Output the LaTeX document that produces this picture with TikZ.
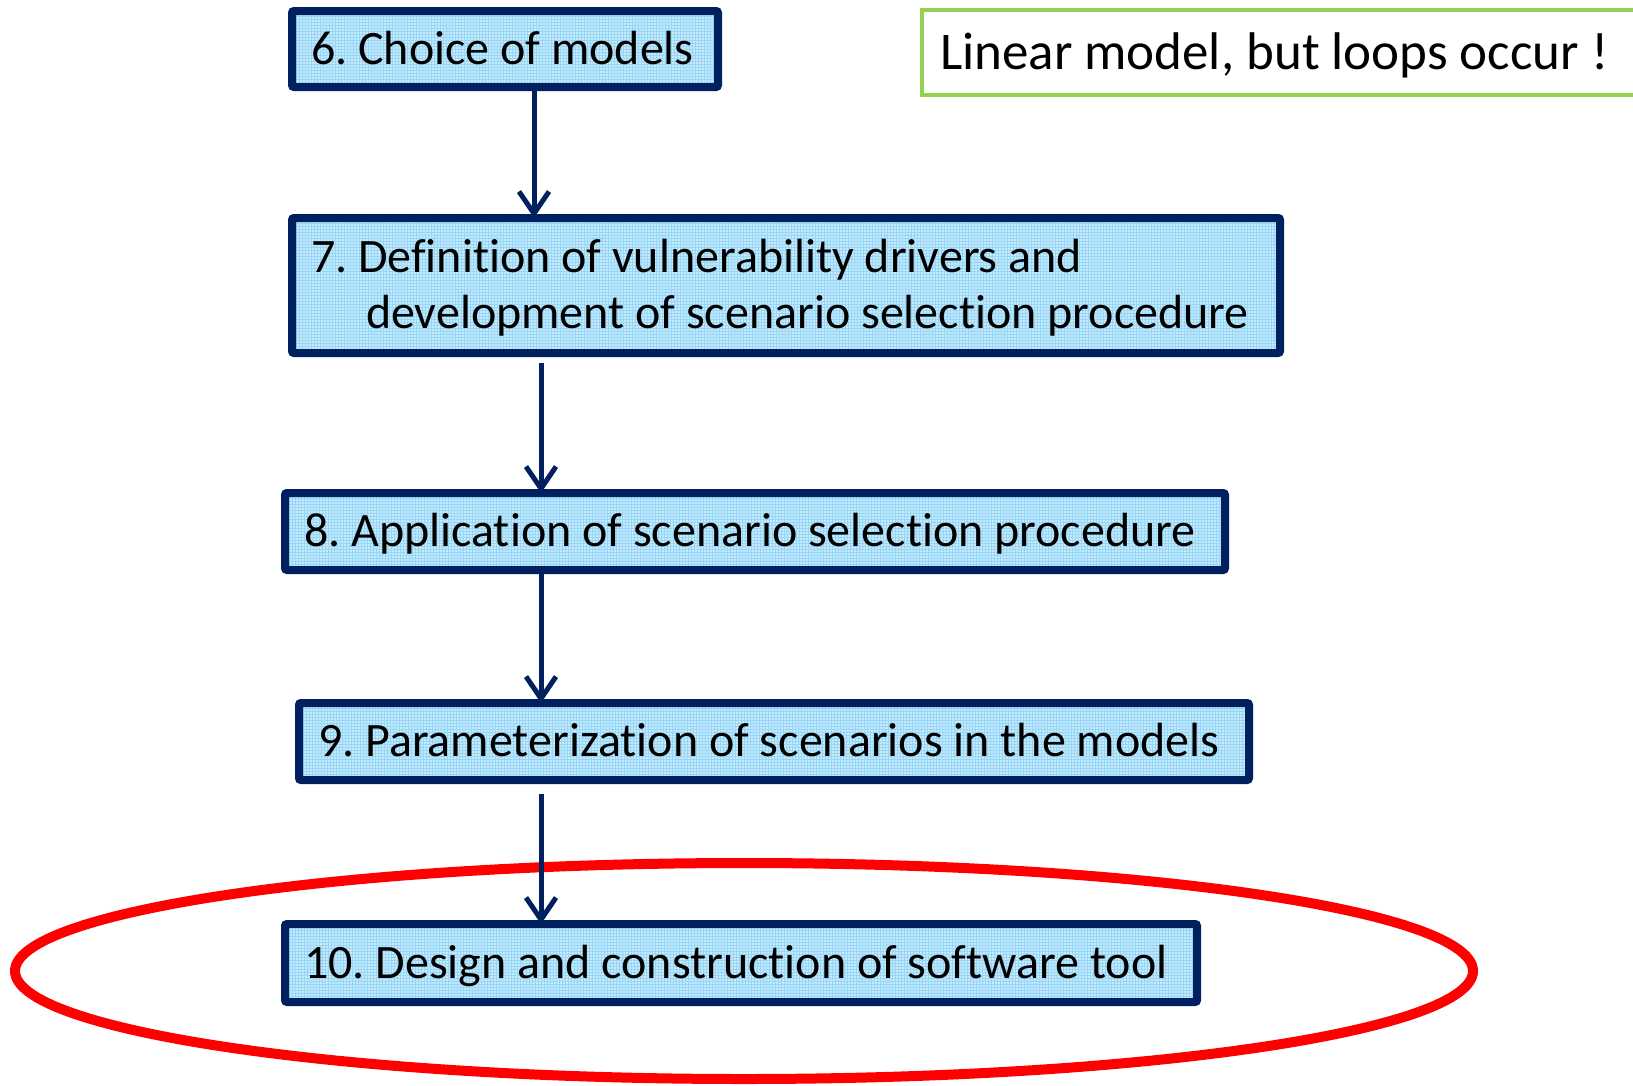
\documentclass[tikz,border=0pt]{standalone}
\usepackage{fontspec}
\setmainfont{Carlito}[Ligatures={NoCommon}]
\usetikzlibrary{arrows.meta}
\definecolor{navy}{HTML}{002060}
\definecolor{boxfill}{HTML}{C8E9FA}
\definecolor{meshc}{HTML}{96D6F6}
\definecolor{notegreen}{HTML}{92D050}
\definecolor{ringred}{HTML}{FF0000}
\frenchspacing
% one unbroken line, left aligned in a fixed width
\newcommand{\lineat}[2]{\makebox[#1][l]{#2}}
\begin{document}
\begin{tikzpicture}[x=1pt,y=-1pt,
  stage/.style={draw=navy, line width=8pt, rounded corners=2pt, fill=boxfill,
    anchor=west, outer sep=0pt, inner xsep=19pt, inner ysep=0pt, align=left,
    font=\fontsize{48}{56}\selectfont, text=black, text height=30pt, text depth=0pt,
    path picture={\draw[meshc, line width=0.9pt]
      (path picture bounding box.south west) grid[step=3pt]
      (path picture bounding box.north east);}},
  note/.style={draw=notegreen, line width=4pt, fill=white, anchor=west,
    outer sep=0pt, inner xsep=18pt, inner ysep=0pt,
    font=\fontsize{53}{64}\selectfont, text=black, text height=34pt, text depth=0pt},
  flow/.style={navy, line width=5pt, -{Straight Barb[length=22pt,width=30pt]}}]

% page frame
\useasboundingbox (0,0) rectangle (1633,1085);
\clip (0,0) rectangle (1633,1085);
\fill[white] (0,0) rectangle (1633,1085);

% process stages
\node[stage, minimum width=426pt, minimum height=76pt]
  (b6) at (292,49) {\lineat{388pt}{6. Choice of models}};
\node[stage, minimum width=988pt, minimum height=135pt, text height=86pt]
  (b7) at (292,285.5) {\lineat{950pt}{7. Definition of vulnerability drivers and}\\
    \lineat{950pt}{\hspace*{55pt}development of scenario selection procedure}};
\node[stage, minimum width=940pt, minimum height=77pt]
  (b8) at (285,531.5) {\lineat{902pt}{8. Application of scenario selection procedure}};
\node[stage, minimum width=950pt, minimum height=77pt]
  (b9) at (299,741.5) {\lineat{912pt}{9. Parameterization of scenarios in the models}};

% highlight ring around the last stage
\draw[ringred, line width=10pt] (744,971) ellipse [x radius=729, y radius=108];

\node[stage, minimum width=912pt, minimum height=78pt]
  (b10) at (285,963) {\lineat{874pt}{10. Design and construction of software tool}};

% remark
\node[note, minimum width=760pt, minimum height=85pt]
  (note) at (922,52.5) {\lineat{724pt}{Linear model, but loops occur !}};

% connectors
\coordinate (c1) at (534,0);
\coordinate (c2) at (541,0);
\draw[flow] (b6.south -| c1) -- (b7.north -| c1);
\draw[flow] ([yshift=-10pt]b7.south -| c2) -- (b8.north -| c2);
\draw[flow] (b8.south -| c2) -- (b9.north -| c2);
\draw[flow] ([yshift=-14pt]b9.south -| c2) -- (b10.north -| c2);
\end{tikzpicture}
\end{document}
